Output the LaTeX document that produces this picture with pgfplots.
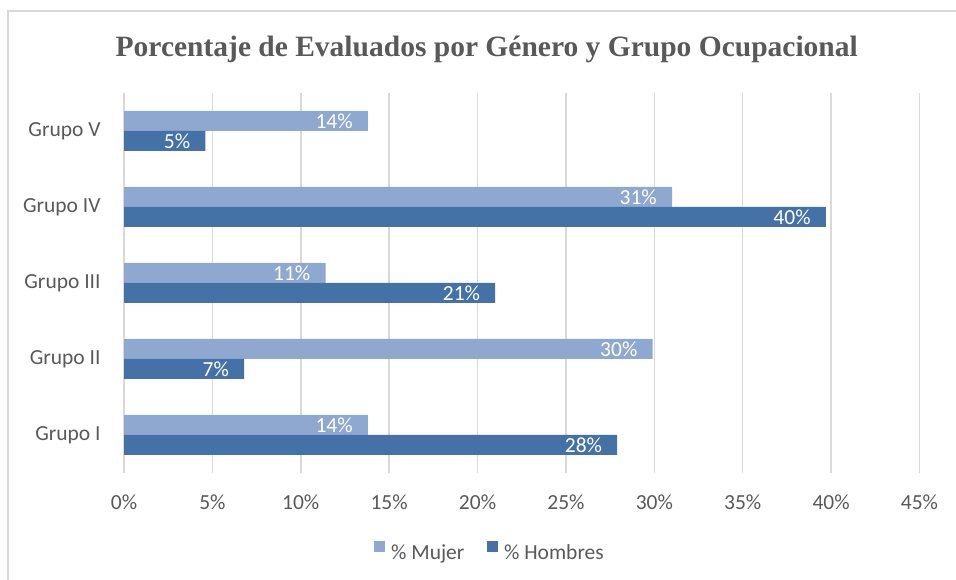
\documentclass[border=0pt]{standalone}
\usepackage{fontspec}
\setmainfont{Carlito}
\newfontfamily\titlefont{Liberation Serif}
\usepackage{pgfplots}
\pgfplotsset{compat=1.18}
\definecolor{mujer}{RGB}{143,168,207}
\definecolor{hombres}{RGB}{68,114,166}
\definecolor{txtgray}{RGB}{89,89,89}
\definecolor{gridgray}{RGB}{217,217,217}
\begin{document}
\begin{tikzpicture}[x=1pt,y=1pt]
\useasboundingbox (0,0) rectangle (956,580);
\draw[gridgray, line width=1.5pt] (8,0) -- (8,569) -- (956,569);
\begin{axis}[
  at={(124pt,107pt)}, anchor=south west,
  scale only axis, width=795.5pt, height=380pt,
  /pgf/number format/assume math mode=true,
  font=\fontsize{21.5}{24}\selectfont,
  xbar, bar width=20pt,
  xmin=0, xmax=45, ymin=-0.5, ymax=4.5,
  xtick={0,5,...,45},
  xticklabel={\pgfmathprintnumber{\tick}\%},
  ytick={0,1,2,3,4},
  yticklabels={Grupo I,Grupo II,Grupo III,Grupo IV,Grupo V},
  xmajorgrids, grid style={gridgray, line width=1.5pt},
  axis line style={draw=none},
  major tick style={draw=none},
  tick label style={text=txtgray},
  x tick label style={anchor=base, yshift=-37pt},
  y tick label style={anchor=east, inner sep=0pt, xshift=-19pt},
  title={\titlefont\bfseries\fontsize{29.5}{32}\selectfont Porcentaje de Evaluados por Género y Grupo Ocupacional},
  title style={text=txtgray, at={(axis description cs:0.456,1.08)}, anchor=base, inner sep=0pt},
  point meta=x,
  nodes near coords={\pgfmathprintnumber[fixed,precision=0]{\pgfplotspointmeta}\%},
  nodes near coords style={text=white, anchor=east, xshift=-15pt, inner sep=0pt, font=\fontsize{21.5}{24}\selectfont},
  legend columns=2,
  legend style={at={(axis description cs:0.459,-0.205)}, anchor=center, draw=none, fill=none,
    nodes={inner sep=0pt, text=txtgray}, font=\fontsize{21.5}{24}\selectfont,
    /tikz/every odd column/.append style={column sep=5.7pt},
    /tikz/every even column/.append style={column sep=23pt}},
  legend image code/.code={\fill[#1] (0pt,1.5pt) rectangle (11pt,12.5pt);},
]
\addplot[fill=mujer, draw=none, bar shift=10pt] coordinates {(13.8,0) (29.9,1) (11.4,2) (31.0,3) (13.8,4)};
\addplot[fill=hombres, draw=none, bar shift=-10pt] coordinates {(27.9,0) (6.8,1) (21.0,2) (39.7,3) (4.6,4)};
\legend{\% Mujer,\% Hombres}
\end{axis}
\end{tikzpicture}
\end{document}
